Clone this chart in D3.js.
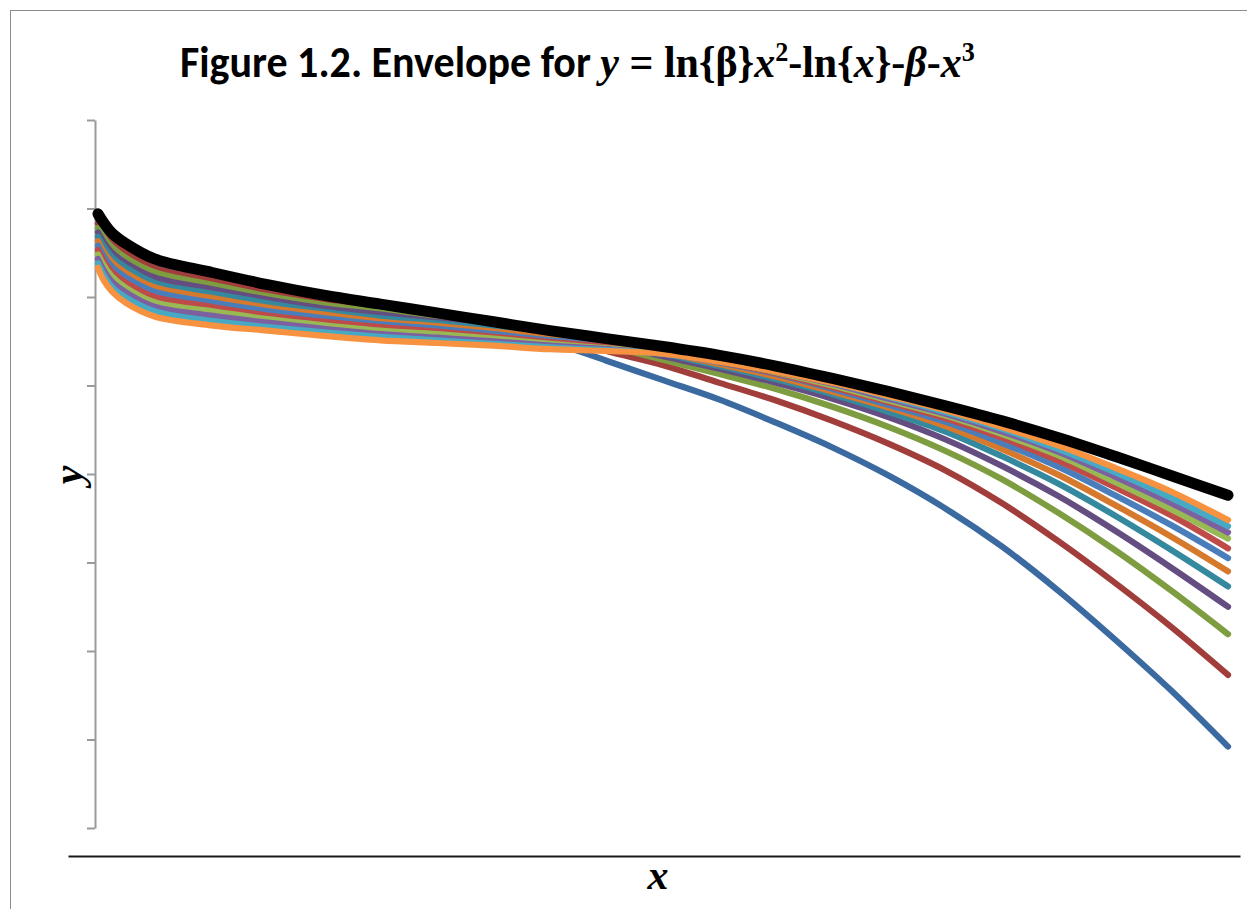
<!DOCTYPE html>
<html>
<head>
<meta charset="utf-8">
<script src="https://cdn.jsdelivr.net/npm/d3@7"></script>
<style>
  html, body { margin: 0; padding: 0; background: #ffffff; }
  svg { display: block; }
</style>
</head>
<body>
<script>
// ---------------- data ----------------
const xValues = [0, 0.01, 0.025, 0.05, 0.1, 0.2, 0.3, 0.4, 0.5, 0.6, 0.7, 0.8, 0.9, 1.0,
                 1.1, 1.2, 1.3, 1.4, 1.5, 1.6, 1.7, 1.8, 1.9, 2.0];
const yTicks = [-4, -3, -2, -1, 0, 1, 2, 3, 4];

const envelope = [2.94, 2.84, 2.72, 2.60, 2.43, 2.28, 2.14, 2.02, 1.92, 1.82, 1.72, 1.62, 1.53, 1.44, 1.34, 1.22, 1.08, 0.93, 0.77, 0.60, 0.41, 0.20, -0.02, -0.24];

const seriesB1  = [2.88, 2.78, 2.67, 2.55, 2.38, 2.24, 2.10, 1.99, 1.90, 1.80, 1.70, 1.50, 1.28, 1.06, 0.84, 0.58, 0.30, -0.02, -0.39, -0.82, -1.32, -1.87, -2.45, -3.08];
const seriesB2  = [2.83, 2.73, 2.62, 2.50, 2.33, 2.19, 2.06, 1.95, 1.87, 1.78, 1.71, 1.57, 1.39, 1.23, 1.03, 0.83, 0.60, 0.34, 0.04, -0.33, -0.76, -1.23, -1.73, -2.27];
const seriesB3  = [2.78, 2.67, 2.56, 2.44, 2.28, 2.14, 2.01, 1.91, 1.83, 1.75, 1.69, 1.58, 1.45, 1.29, 1.13, 0.96, 0.76, 0.53, 0.26, -0.06, -0.44, -0.86, -1.32, -1.81];
const seriesB4  = [2.73, 2.62, 2.50, 2.38, 2.22, 2.09, 1.97, 1.87, 1.80, 1.72, 1.67, 1.58, 1.47, 1.33, 1.19, 1.03, 0.85, 0.64, 0.39, 0.09, -0.25, -0.64, -1.06, -1.50];
const seriesB5  = [2.68, 2.57, 2.45, 2.33, 2.16, 2.04, 1.93, 1.83, 1.76, 1.70, 1.64, 1.56, 1.47, 1.36, 1.22, 1.07, 0.90, 0.70, 0.48, 0.20, -0.11, -0.47, -0.86, -1.27];
const seriesB6  = [2.63, 2.51, 2.39, 2.27, 2.11, 1.99, 1.88, 1.80, 1.72, 1.67, 1.61, 1.54, 1.47, 1.37, 1.24, 1.10, 0.93, 0.75, 0.54, 0.28, -0.01, -0.35, -0.71, -1.10];
const seriesB7  = [2.58, 2.46, 2.34, 2.22, 2.06, 1.94, 1.84, 1.76, 1.69, 1.64, 1.58, 1.51, 1.46, 1.37, 1.26, 1.13, 0.96, 0.78, 0.59, 0.35, 0.08, -0.24, -0.58, -0.95];
const seriesB8  = [2.53, 2.41, 2.28, 2.16, 2.00, 1.89, 1.79, 1.72, 1.66, 1.61, 1.55, 1.49, 1.44, 1.37, 1.27, 1.14, 0.98, 0.81, 0.63, 0.41, 0.15, -0.15, -0.47, -0.84];
const seriesB9  = [2.48, 2.36, 2.23, 2.10, 1.94, 1.84, 1.75, 1.68, 1.62, 1.58, 1.53, 1.47, 1.42, 1.37, 1.28, 1.15, 1.00, 0.83, 0.66, 0.45, 0.21, -0.09, -0.40, -0.73];
const seriesB10 = [2.43, 2.30, 2.17, 2.05, 1.89, 1.79, 1.71, 1.64, 1.58, 1.54, 1.50, 1.45, 1.41, 1.36, 1.28, 1.16, 1.02, 0.85, 0.68, 0.48, 0.25, -0.03, -0.33, -0.66];
const seriesB11 = [2.38, 2.25, 2.11, 1.99, 1.84, 1.73, 1.66, 1.60, 1.55, 1.51, 1.47, 1.43, 1.40, 1.36, 1.28, 1.17, 1.03, 0.87, 0.70, 0.51, 0.28, 0.02, -0.27, -0.59];
const seriesB12 = [2.33, 2.19, 2.06, 1.93, 1.78, 1.68, 1.62, 1.56, 1.51, 1.48, 1.45, 1.41, 1.39, 1.36, 1.27, 1.16, 1.03, 0.88, 0.72, 0.53, 0.32, 0.07, -0.20, -0.52];

const seriesColors = ['#3B6AA0', '#A13E3B', '#7E9D40', '#644D80', '#35899F', '#D6792D',
                      '#4A7EBB', '#BE4B48', '#98B954', '#7D60A0', '#46AAC5', '#F69240'];
const seriesList = [seriesB1, seriesB2, seriesB3, seriesB4, seriesB5, seriesB6,
                    seriesB7, seriesB8, seriesB9, seriesB10, seriesB11, seriesB12];

// ---------------- drawing ----------------
const W = 1247, H = 909;
const svg = d3.select('body').append('svg').attr('width', W).attr('height', H);

// chart frame
svg.append('rect')
  .attr('x', 10.5).attr('y', 10.5).attr('width', W + 20).attr('height', H + 20)
  .attr('fill', '#fff').attr('stroke', '#8c8c8c').attr('stroke-width', 1);

const x = d3.scaleLinear().domain([0, 2]).range([98, 1228]);
const y = d3.scaleLinear().domain([-4, 4]).range([828, 120]);

// y axis (ticks, no labels)
const yAxisG = svg.append('g').attr('transform', 'translate(95,0)')
  .call(d3.axisLeft(y).tickValues(yTicks).tickSize(8).tickSizeOuter(0).tickFormat(''));
yAxisG.selectAll('path.domain').attr('stroke', '#9a9a9a').attr('stroke-width', 2);
yAxisG.selectAll('.tick line').attr('stroke', '#9a9a9a').attr('stroke-width', 2);

// x axis line (no ticks)
const xLine = x.copy().domain([x.invert(68), x.invert(1240)]).range([68, 1240]);
const xAxisG = svg.append('g').attr('transform', 'translate(0,856)')
  .call(d3.axisBottom(xLine).tickValues([]).tickSizeOuter(0));
xAxisG.selectAll('path.domain').attr('stroke', '#1a1a1a').attr('stroke-width', 2);

// lines
const line = d3.line()
  .x((d, i) => x(xValues[i]))
  .y(d => y(d))
  .curve(d3.curveCatmullRom.alpha(0.5));

const plot = svg.append('g');
seriesList.forEach((s, i) => {
  plot.append('path')
    .attr('d', line(s))
    .attr('fill', 'none')
    .attr('stroke', seriesColors[i])
    .attr('stroke-width', 6.2)
    .attr('stroke-linecap', 'round')
    .attr('stroke-linejoin', 'round');
});
plot.append('path')
  .attr('d', line(envelope))
  .attr('fill', 'none')
  .attr('stroke', '#000')
  .attr('stroke-width', 11)
  .attr('stroke-linecap', 'round')
  .attr('stroke-linejoin', 'round');

// title
const sans = "Carlito, Calibri, Lato, 'Open Sans', sans-serif";
const serif = "'Liberation Serif', 'Times New Roman', serif";
const title = svg.append('text')
  .attr('x', 0).attr('y', 0)
  .attr('font-size', 45).attr('font-weight', 'bold').attr('fill', '#000');
const parts = [
  {t: 'Figure 1.2. Envelope for ', f: sans},
  {t: 'y', f: serif, i: true},
  {t: ' = ln{β}', f: serif},
  {t: 'x', f: serif, i: true},
  {t: '2', f: serif, sup: true},
  {t: '-ln{', f: serif},
  {t: 'x', f: serif, i: true},
  {t: '}-', f: serif},
  {t: 'β', f: serif, i: true},
  {t: '-', f: serif},
  {t: 'x', f: serif, i: true},
  {t: '3', f: serif, sup: true}
];
let raised = false;
parts.forEach(p => {
  const ts = title.append('tspan').text(p.t).attr('font-family', p.f);
  if (p.i) ts.attr('font-style', 'italic');
  if (p.sup) { ts.attr('font-size', 28).attr('dy', -16); raised = true; }
  else if (raised) { ts.attr('dy', 16); raised = false; }
});
const tw = title.node().getBBox().width;
title.attr('transform', `translate(180,77) scale(${795 / tw},1)`);

// axis titles
svg.append('text')
  .attr('transform', 'translate(82,475) rotate(-90)')
  .attr('text-anchor', 'middle')
  .attr('font-family', serif).attr('font-style', 'italic').attr('font-weight', 'bold')
  .attr('font-size', 42).text('y');
svg.append('text')
  .attr('x', 658).attr('y', 889)
  .attr('text-anchor', 'middle')
  .attr('font-family', serif).attr('font-style', 'italic').attr('font-weight', 'bold')
  .attr('font-size', 42).text('x');
</script>
</body>
</html>
